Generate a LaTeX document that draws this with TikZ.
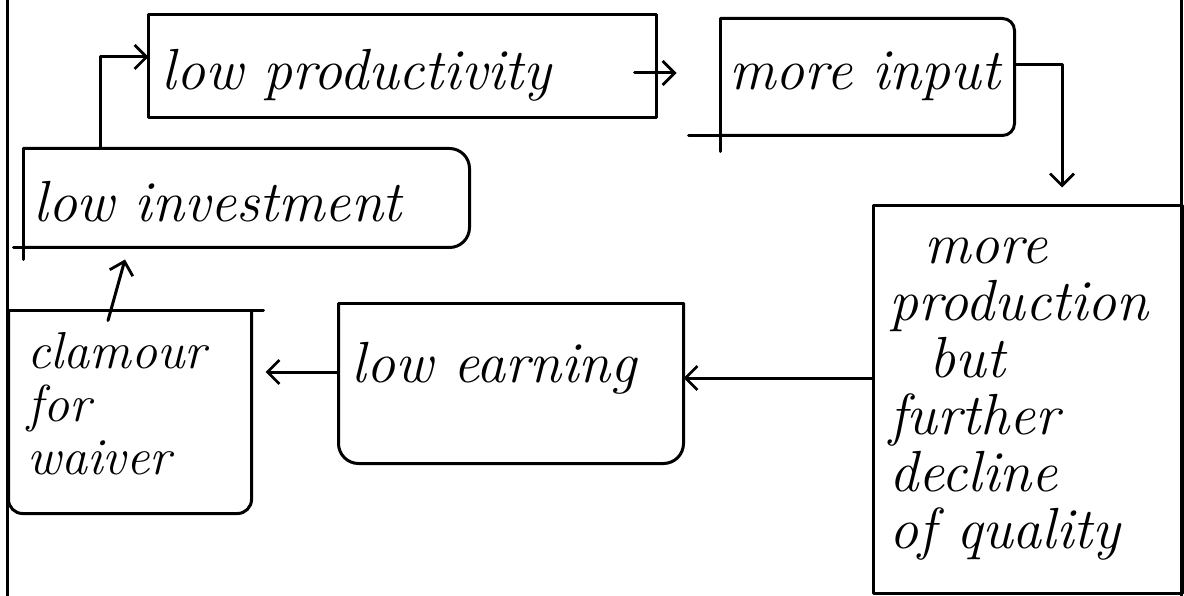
\documentclass[tikz,border=0pt]{standalone}
\usetikzlibrary{arrows.meta,calc}
\begin{document}
\begin{tikzpicture}[x=1pt,y=-1pt,
  line width=3pt, line cap=round, line join=round,
  box/.style={shape=rectangle, inner sep=0pt, draw=none},
  arr/.style={-{Straight Barb[length=12pt,width=24pt,line width=2.8pt]}},
  hand/.style={inner sep=0pt, anchor=base west, font=\fontsize{58}{57}\selectfont\itshape}]
\useasboundingbox (0,0) rectangle (1184,596);

% page frame
\draw (7,0) -- (7,596);
\draw (1181,0) -- (1181,596);

% box placeholders
\node[box, minimum width=505pt, minimum height=100pt] (lowprod)   at (402.5,66)  {};
\node[box, minimum width=291pt, minimum height=114pt] (moreinput) at (867.5,77)  {};
\node[box, minimum width=443pt, minimum height=96pt]  (lowinv)    at (246.5,198) {};
\node[box, minimum width=240pt, minimum height=200pt] (clamour)   at (130,412)   {};
\node[box, minimum width=342pt, minimum height=157pt] (lowearn)   at (511,383.5) {};
\node[box, minimum width=306pt, minimum height=385pt] (moreprod)  at (1028,399.5){};

% outlines
\draw (lowprod.north west) rectangle (lowprod.south east);

\draw[rounded corners=12pt] (moreinput.north west) -- (moreinput.north east)
  -- (moreinput.south east) -- (moreinput.south west);
\draw (moreinput.north west) -- ($(moreinput.south west)+(0,16)$);
\draw (moreinput.south west) -- ($(moreinput.south west)+(-32,0)$);

\draw[rounded corners=20pt] (lowinv.north west) -- (lowinv.north east)
  -- (lowinv.south east) -- (lowinv.south west);
\draw (lowinv.north west) -- ($(lowinv.south west)+(0,12)$);
\draw (lowinv.south west) -- ($(lowinv.south west)+(-10,0)$);

\draw[rounded corners=14pt] (clamour.north east) -- (clamour.south east)
  -- (clamour.south west) -- (clamour.north west);
\draw (clamour.north west) -- ($(clamour.north east)+(12,0)$);

\draw[rounded corners=20pt] (lowearn.north west) -- (lowearn.south west)
  -- (lowearn.south east) -- (lowearn.north east);
\draw (lowearn.north west) -- (lowearn.north east);

\draw (moreprod.north west) rectangle (moreprod.south east);

% texts (multi-line nodes sit on the baseline of their last line)
\node[hand] (tprod)  at (160,90)  {low productivity};
\node[hand] (tinput) at (728,90)  {more input};
\node[hand] (tinv)   at (32,222)  {low investment};
\node[hand, align=left, font=\fontsize{52}{53}\selectfont\itshape] (tclam) at (26,474)
  {clamour\\for\\waiver};
\node[hand] (tearn)  at (350,382) {low earning};
\node[hand, align=left] (tmprod) at (888,548)
  {\hspace*{35pt}more\\production\\\hspace*{40pt}but\\further\\decline\\of quality};

% connectors
\draw[arr] ($(lowinv.north)+(-146.5,0)$) |- ($(lowprod.west)+(0,-9)$);
\draw[arr] ($(lowprod.east)+(-22,7)$) -- ($(moreinput.west)+(-44,-4)$);
\draw[arr] ($(moreinput.east)+(0,-12)$) -| ($(moreprod.north)+(34,-18)$);
\draw[arr] ($(moreprod.west)+(0,-21.5)$) -- ($(lowearn.east)+(0,-5.5)$);
\draw[arr] ($(lowearn.west)+(0,-11.5)$) -- ($(clamour.east)+(14,-40)$);
\draw[arr] ($(clamour.north)+(-22,10)$) -- ($(lowinv.south)+(-121.5,12)$);
\end{tikzpicture}
\end{document}
